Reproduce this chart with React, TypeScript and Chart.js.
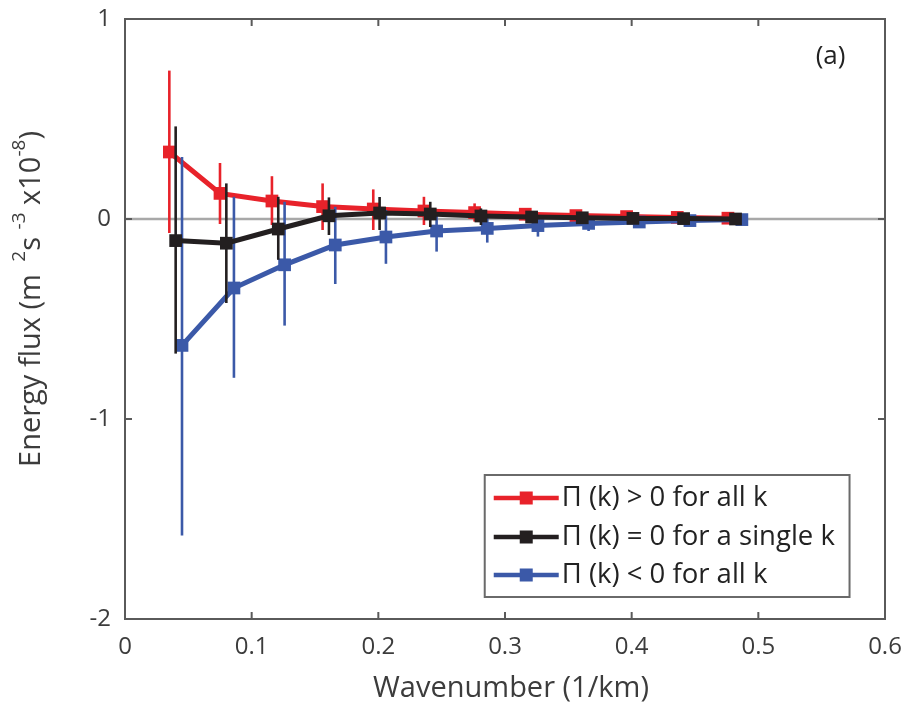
import React, { useEffect, useRef } from "react";
import { Chart, registerables } from "chart.js";

Chart.register(...registerables);

// ---- data ----
const seriesLabels = [
  "Π (k) > 0 for all k",
  "Π (k) = 0 for a single k",
  "Π (k) < 0 for all k",
];

const kRed = [0.035, 0.075, 0.116, 0.156, 0.196, 0.236, 0.276, 0.316, 0.356, 0.396, 0.436, 0.476];
const kBlack = [0.040, 0.080, 0.121, 0.161, 0.201, 0.241, 0.281, 0.321, 0.361, 0.401, 0.441, 0.482];
const kBlue = [0.045, 0.086, 0.126, 0.166, 0.206, 0.246, 0.286, 0.326, 0.366, 0.406, 0.446, 0.487];

const fluxRed = [0.335, 0.128, 0.09, 0.062, 0.05, 0.04, 0.032, 0.024, 0.017, 0.012, 0.008, 0.004];
const redLow = [-0.07, -0.025, -0.03, -0.055, -0.055, -0.03, -0.013, -0.006, -0.005, -0.004, -0.003, -0.002];
const redHigh = [0.742, 0.28, 0.214, 0.178, 0.148, 0.111, 0.078, 0.053, 0.035, 0.025, 0.018, 0.01];

const fluxBlack = [-0.108, -0.121, -0.05, 0.016, 0.03, 0.025, 0.015, 0.01, 0.006, 0.003, 0.002, 0.0];
const blackLow = [-0.673, -0.42, -0.204, -0.08, -0.055, -0.04, -0.03, -0.015, -0.01, -0.007, -0.005, -0.003];
const blackHigh = [0.463, 0.178, 0.111, 0.108, 0.11, 0.086, 0.053, 0.035, 0.022, 0.015, 0.01, 0.005];

const fluxBlue = [-0.632, -0.345, -0.229, -0.13, -0.09, -0.06, -0.047, -0.033, -0.022, -0.015, -0.008, -0.003];
const blueLow = [-1.583, -0.794, -0.533, -0.325, -0.224, -0.163, -0.118, -0.088, -0.06, -0.04, -0.025, -0.012];
const blueHigh = [0.31, 0.111, 0.086, 0.061, 0.045, 0.035, 0.02, 0.01, 0.008, 0.005, 0.003, 0.002];

const xTicks = [0, 0.1, 0.2, 0.3, 0.4, 0.5, 0.6];
const yTicks = [-2, -1, 0, 1];

const xTitle = "Wavenumber (1/km)";
const panelTag = "(a)";

// ---- styles ----
const RED = "#e8222a";
const BLACK = "#231f20";
const BLUE = "#3b59a8";
const AXIS = "#5a5a5a";
const TEXT = "#3c3c3c";
const FONT = "'Open Sans', 'Noto Sans', sans-serif";

const colors = [RED, BLACK, BLUE];

function toPts(xs: number[], ys: number[]) {
  return xs.map((x, i) => ({ x, y: ys[i] }));
}

const errLow = [redLow, blackLow, blueLow];
const errHigh = [redHigh, blackHigh, blueHigh];

const decorPlugin = {
  id: "decor",
  beforeDatasetsDraw(chart: any) {
    const { ctx, chartArea, scales } = chart;
    const y0 = scales.y.getPixelForValue(0);
    ctx.save();
    ctx.strokeStyle = "#a8a8a8";
    ctx.lineWidth = 2.5;
    ctx.beginPath();
    ctx.moveTo(chartArea.left, y0);
    ctx.lineTo(chartArea.right, y0);
    ctx.stroke();
    ctx.restore();
  },
  beforeDatasetDraw(chart: any, args: any) {
    const i = args.index;
    const { ctx, scales } = chart;
    const ds = chart.data.datasets[i];
    const lo = errLow[i];
    const hi = errHigh[i];
    ctx.save();
    ctx.strokeStyle = colors[i];
    ctx.lineWidth = 2.6;
    ds.data.forEach((p: any, j: number) => {
      const px = scales.x.getPixelForValue(p.x);
      ctx.beginPath();
      ctx.moveTo(px, scales.y.getPixelForValue(lo[j]));
      ctx.lineTo(px, scales.y.getPixelForValue(hi[j]));
      ctx.stroke();
    });
    ctx.restore();
  },
  afterDraw(chart: any) {
    const { ctx, chartArea, scales } = chart;
    const { left, right, top, bottom } = chartArea;
    ctx.save();
    // box
    ctx.strokeStyle = AXIS;
    ctx.lineWidth = 2;
    ctx.strokeRect(left, top, right - left, bottom - top);
    // inward ticks
    const tl = 7;
    ctx.beginPath();
    xTicks.forEach((v) => {
      const px = scales.x.getPixelForValue(v);
      ctx.moveTo(px, bottom);
      ctx.lineTo(px, bottom - tl);
      ctx.moveTo(px, top);
      ctx.lineTo(px, top + tl);
    });
    yTicks.forEach((v) => {
      const py = scales.y.getPixelForValue(v);
      ctx.moveTo(left, py);
      ctx.lineTo(left + tl, py);
      ctx.moveTo(right, py);
      ctx.lineTo(right - tl, py);
    });
    ctx.stroke();

    // panel tag
    ctx.fillStyle = "#222";
    ctx.font = `26px ${FONT}`;
    ctx.textAlign = "center";
    ctx.textBaseline = "middle";
    ctx.fillText(panelTag, scales.x.getPixelForValue(0.557), scales.y.getPixelForValue(0.81));

    // x title
    ctx.fillStyle = TEXT;
    ctx.font = `29px ${FONT}`;
    ctx.textAlign = "center";
    ctx.textBaseline = "middle";
    ctx.fillText(xTitle, (left + right) / 2 + 6, 689);

    // y title with superscripts
    const parts: [string, boolean][] = [
      ["Energy flux (m ", false],
      [" 2", true],
      ["s ", false],
      ["-3", true],
      [" x10", false],
      ["-8", true],
      [")", false],
    ];
    const mainF = `29px ${FONT}`;
    const supF = `19px ${FONT}`;
    let total = 0;
    parts.forEach(([t, s]) => {
      ctx.font = s ? supF : mainF;
      total += ctx.measureText(t).width;
    });
    ctx.translate(32, 299);
    ctx.rotate(-Math.PI / 2);
    ctx.textAlign = "left";
    ctx.textBaseline = "middle";
    let cx = -total / 2;
    parts.forEach(([t, s]) => {
      ctx.font = s ? supF : mainF;
      ctx.fillText(t, cx, s ? -12 : 0);
      cx += ctx.measureText(t).width;
    });
    ctx.setTransform(1, 0, 0, 1, 0, 0);

    // legend
    const lx = scales.x.getPixelForValue(0.284);
    const ly = scales.y.getPixelForValue(-1.28);
    const lw = scales.x.getPixelForValue(0.572) - lx;
    const lh = scales.y.getPixelForValue(-1.89) - ly;
    ctx.fillStyle = "#fff";
    ctx.fillRect(lx, ly, lw, lh);
    ctx.strokeStyle = "#6a6a6a";
    ctx.lineWidth = 2;
    ctx.strokeRect(lx, ly, lw, lh);
    const rowYs = [-1.395, -1.59, -1.78].map((v) => scales.y.getPixelForValue(v));
    seriesLabels.forEach((lab, i) => {
      const ry = rowYs[i];
      ctx.strokeStyle = colors[i];
      ctx.lineWidth = 4.5;
      ctx.beginPath();
      ctx.moveTo(lx + 9, ry);
      ctx.lineTo(lx + 74, ry);
      ctx.stroke();
      ctx.fillStyle = colors[i];
      ctx.fillRect(lx + 35, ry - 6.5, 13, 13);
      ctx.fillStyle = "#222";
      ctx.font = `27.5px ${FONT}`;
      ctx.textAlign = "left";
      ctx.textBaseline = "middle";
      ctx.fillText(lab, lx + 77, ry);
    });
    ctx.restore();
  },
};

export default function App() {
  const ref = useRef<HTMLCanvasElement | null>(null);

  useEffect(() => {
    if (!ref.current) return;
    const datasets = [
      { label: seriesLabels[0], data: toPts(kRed, fluxRed), color: RED, order: 2 },
      { label: seriesLabels[1], data: toPts(kBlack, fluxBlack), color: BLACK, order: 0 },
      { label: seriesLabels[2], data: toPts(kBlue, fluxBlue), color: BLUE, order: 1 },
    ].map((d) => ({
      label: d.label,
      data: d.data,
      order: d.order,
      showLine: true,
      borderColor: d.color,
      backgroundColor: d.color,
      borderWidth: 5,
      pointStyle: "rect" as const,
      pointRadius: 9,
      pointBorderWidth: 0,
      pointBackgroundColor: d.color,
      tension: 0,
    }));

    const chart = new Chart(ref.current, {
      type: "scatter",
      data: { datasets },
      options: {
        animation: false,
        responsive: false,
        devicePixelRatio: 1,
        layout: { padding: { left: 0, top: 19, right: 16, bottom: 0 } },
        plugins: { legend: { display: false }, tooltip: { enabled: false } },
        scales: {
          x: {
            type: "linear",
            min: 0,
            max: 0.6,
            afterFit: (s: any) => {
              s.height = 90;
              s.paddingLeft = 0;
              s.paddingRight = 0;
            },
            afterBuildTicks: (s: any) => { s.ticks = xTicks.map((v) => ({ value: v })); },
            grid: { display: false, drawTicks: false },
            border: { display: false },
            ticks: {
              padding: 14,
              color: TEXT,
              font: { family: FONT, size: 24 },
              callback: (v: any) => (Number(v) === 0 ? "0" : Number(v).toFixed(1)),
            },
          },
          y: {
            type: "linear",
            min: -2,
            max: 1,
            afterFit: (s: any) => {
              s.width = 125;
              s.paddingTop = 0;
              s.paddingBottom = 0;
            },
            afterBuildTicks: (s: any) => { s.ticks = yTicks.map((v) => ({ value: v })); },
            grid: { display: false, drawTicks: false },
            border: { display: false },
            ticks: {
              padding: 14,
              color: TEXT,
              font: { family: FONT, size: 24 },
              callback: (v: any) => String(v),
            },
          },
        },
      },
      plugins: [decorPlugin],
    });
    return () => chart.destroy();
  }, []);

  return (
    <div style={{ position: "absolute", left: 0, top: 0, width: 901, height: 709, background: "#fff" }}>
      <canvas ref={ref} width={901} height={709} style={{ display: "block" }} />
    </div>
  );
}
